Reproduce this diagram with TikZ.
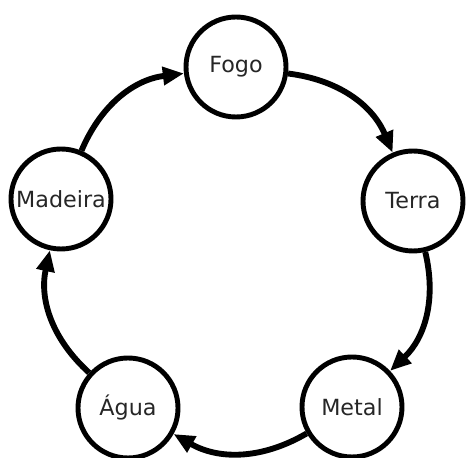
\documentclass[tikz,border=0pt]{standalone}
\usepackage{fontspec}
\setmainfont{DejaVu Sans}
\usetikzlibrary{arrows.meta}

\begin{document}
\begin{tikzpicture}[x=0.03cm, y=0.03cm,
    element/.style={draw, circle, line width=4.2pt, minimum size=3cm, inner sep=0pt,
        font=\fontsize{19}{22}\selectfont, text=black!85},
    cycle/.style={line width=5pt, -{Triangle[length=18pt, width=15pt]}, bend left=30}]
    \useasboundingbox (0,0) rectangle (470,458);
    % the five elements
    \node[element] (fogo)    at (236,391) {Fogo};
    \node[element] (terra)   at (413,257) {Terra};
    \node[element] (metal)   at (352,51)  {Metal};
    \node[element] (agua)    at (128,50)  {Água};
    \node[element] (madeira) at (61,259)  {Madeira};
    % generating cycle
    \draw[cycle] (fogo) to (terra);
    \draw[cycle] (terra) to (metal);
    \draw[cycle] (metal) to (agua);
    \draw[cycle] (agua) to (madeira);
    \draw[cycle] (madeira) to (fogo);
\end{tikzpicture}
\end{document}
